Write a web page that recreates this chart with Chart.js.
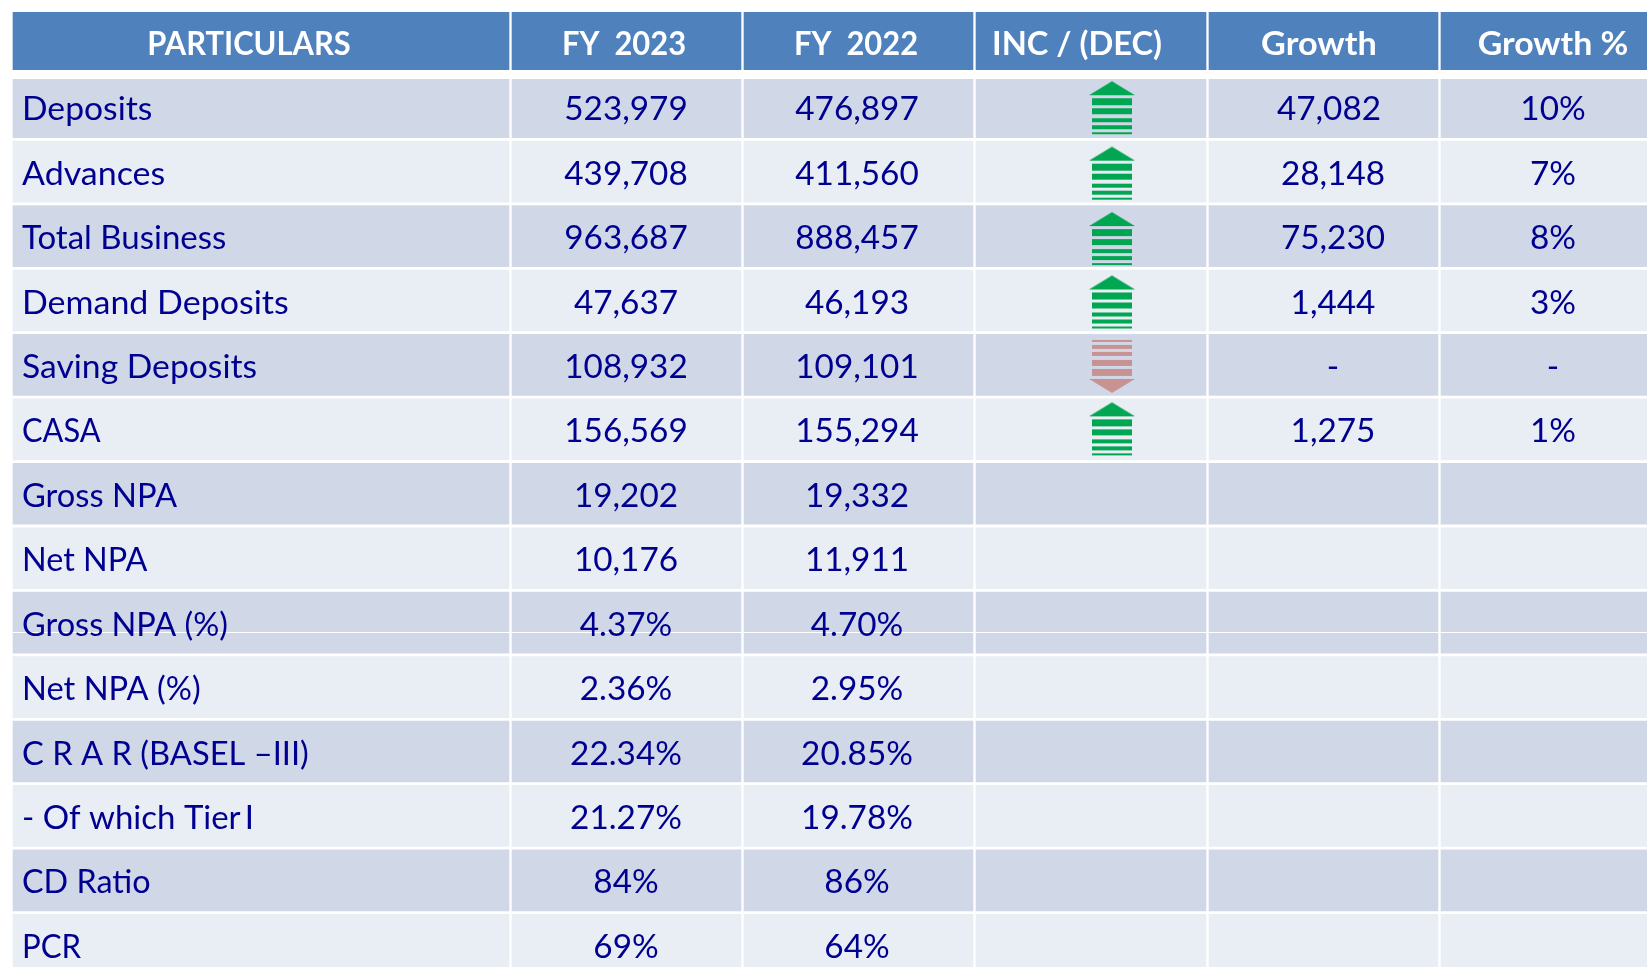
<!DOCTYPE html>
<html>
<head>
<meta charset="utf-8">
<style>
  html, body { margin: 0; background: #fff; overflow: hidden; }
  .wrap { position: absolute; left: 0; width: 1647px; overflow: hidden; }
  #headWrap { top: 12px; height: 58px; }
  #bodyWrap { top: 79px; height: 888px; }
  #bodyChart { position: absolute; top: -4px; left: 0; }
</style>
<script src="https://cdn.jsdelivr.net/npm/chart.js@4"></script>
</head>
<body>
<div id="headWrap" class="wrap"><canvas id="headChart" width="1647" height="58"></canvas></div>
<div id="bodyWrap" class="wrap"><canvas id="bodyChart" width="1647" height="902"></canvas></div>
<script>
// table content
const headers = ['PARTICULARS', 'FY  2023', 'FY  2022', 'INC / (DEC)', 'Growth', 'Growth %']
const particulars = ['Deposits', 'Advances', 'Total Business', 'Demand Deposits', 'Saving Deposits', 'CASA',
  'Gross NPA', 'Net NPA', 'Gross NPA (%)', 'Net NPA (%)', 'C R A R (BASEL –III)', '- Of which Tier\u2009I', 'CD Ratio', 'PCR']
const fy2023 = ['523,979', '439,708', '963,687', '47,637', '108,932', '156,569', '19,202', '10,176',
  '4.37%', '2.36%', '22.34%', '21.27%', '84%', '69%']
const fy2022 = ['476,897', '411,560', '888,457', '46,193', '109,101', '155,294', '19,332', '11,911',
  '4.70%', '2.95%', '20.85%', '19.78%', '86%', '64%']
const direction = ['up', 'up', 'up', 'up', 'down', 'up']
const growth = ['47,082', '28,148', '75,230', '1,444', '-', '1,275']
const growthPct = ['10%', '7%', '8%', '3%', '-', '1%']

// layout, x axis runs in page pixels so the columns line up with the page
const colEdges = [[13, 509], [512, 741], [744, 973], [976, 1206], [1209, 1438], [1441, 1647]]
const headTextX = [249, 624, 856, 1077, 1319, 1553]
const headStretch = [0.965, 0.965, 0.965, 1.02, 1.07, 1.06]
const labelStretch = [1.02, 1.03, 1.0, 1.03, 1.02, 0.935, 0.99, 0.98, 0.985, 0.99, 0.99, 1.0, 0.98, 0.945]
const bodyTextX = [22, 626, 857, null, 1333, 1553]
const arrowX = 1112
const arrowNudge = [1, 2, 3, 2, 1, 0]
const navy = '#000090'
const headBlue = '#4F81BD'
const bandDark = '#D0D8E8'
const bandLight = '#E9EDF4'

function arrowImage(dir, nudge) {
  const c = document.createElement('canvas')
  c.width = 48
  c.height = 64
  const g = c.getContext('2d')
  g.fillStyle = dir === 'up' ? '#00A651' : '#C99292'
  if (dir === 'down') {
    g.translate(0, 59 + nudge)
    g.scale(1, -1)
  } else {
    g.translate(0, 5 + nudge)
  }
  g.beginPath()
  g.moveTo(24, 0)
  g.lineTo(47, 14)
  g.lineTo(1, 14)
  g.closePath()
  g.fill()
  const stripes = [[17, 7], [27, 6], [37, 4], [44, 4], [51, 2]]
  stripes.forEach(([y, h]) => g.fillRect(4, y, 40, h))
  return c
}

// Lato has other proportions than the Calibri of the slide, so stretch it per use
function drawText(ctx, text, x, y, align, font, color, stretch) {
  ctx.save()
  ctx.font = font
  ctx.fillStyle = color
  ctx.textAlign = align
  ctx.textBaseline = 'middle'
  ctx.translate(x, y)
  ctx.scale(stretch, 1)
  ctx.fillText(text, 0, 0)
  ctx.restore()
}

const headTextPlugin = {
  id: 'headText',
  afterDatasetsDraw(chart) {
    const { ctx, scales } = chart
    const y = scales.y.getPixelForValue(0)
    headers.forEach((h, i) => {
      drawText(ctx, h, headTextX[i], y + 4, 'center', 'bold 32px Lato', '#fff', headStretch[i])
    })
  },
}

const bodyTextPlugin = {
  id: 'bodyText',
  afterDatasetsDraw(chart) {
    const { ctx, scales, chartArea } = chart
    // thin white seam that runs across the Gross NPA (%) row
    const seamY = Math.round(scales.y.getPixelForValue(8) + 9.5)
    ctx.fillStyle = '#fff'
    ctx.fillRect(colEdges[0][0], seamY, chartArea.right - colEdges[0][0], 1)
    const font = '33px Lato'
    particulars.forEach((name, i) => {
      const y = scales.y.getPixelForValue(i) + 2.5
      drawText(ctx, name, bodyTextX[0], y, 'left', font, navy, labelStretch[i])
      drawText(ctx, fy2023[i], bodyTextX[1], y, 'center', font, navy, 1.01)
      drawText(ctx, fy2022[i], bodyTextX[2], y, 'center', font, navy, 1.01)
      if (i < growth.length) {
        // the first growth figure sits a little left of the ones below it
        const growthX = i === 0 ? bodyTextX[4] - 4 : bodyTextX[4]
        drawText(ctx, growth[i], growthX, y, 'center', font, navy, 1.01)
        drawText(ctx, growthPct[i], bodyTextX[5], y, 'center', font, navy, 1.01)
      }
    })
  },
}

const pixelAxis = { type: 'linear', min: 0, max: 1647, offset: false, display: false }

new Chart(document.getElementById('headChart'), {
  type: 'bar',
  plugins: [headTextPlugin],
  data: {
    labels: ['header'],
    datasets: colEdges.map((edge) => ({
      data: [edge],
      backgroundColor: headBlue,
      barThickness: 58,
      grouped: false,
    })),
  },
  options: {
    indexAxis: 'y',
    responsive: false,
    animation: false,
    layout: { padding: 0, autoPadding: false },
    plugins: { legend: { display: false }, tooltip: { enabled: false } },
    scales: { x: pixelAxis, y: { type: 'category', display: false } },
  },
})

new Chart(document.getElementById('bodyChart'), {
  type: 'bar',
  plugins: [bodyTextPlugin],
  data: {
    labels: particulars,
    datasets: [
      ...colEdges.map((edge) => ({
        indexAxis: 'y',
        data: particulars.map(() => edge),
        backgroundColor: particulars.map((p, i) => (i % 2 === 0 ? bandDark : bandLight)),
        barThickness: 61,
        grouped: false,
        order: 2,
      })),
      {
        type: 'scatter',
        data: direction.map((d, i) => ({ x: arrowX, y: particulars[i] })),
        pointStyle: direction.map((d, i) => arrowImage(d, arrowNudge[i])),
        order: 1,
      },
    ],
  },
  options: {
    responsive: false,
    animation: false,
    layout: { padding: 0, autoPadding: false },
    plugins: { legend: { display: false }, tooltip: { enabled: false } },
    scales: { x: pixelAxis, y: { type: 'category', display: false, offset: true } },
  },
})
</script>
</body>
</html>
